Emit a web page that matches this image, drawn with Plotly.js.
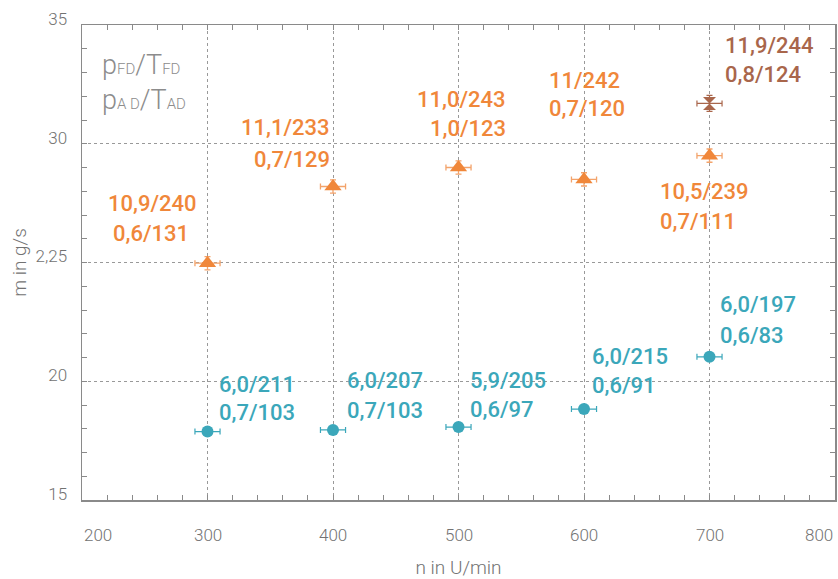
<!DOCTYPE html>
<html>
<head>
<meta charset="utf-8">
<script src="https://cdn.plot.ly/plotly-3.0.1.min.js"></script>
<style>
  html, body { margin: 0; padding: 0; background: #fff; }
  #chart { width: 838px; height: 579px; }
</style>
</head>
<body>
<div id="chart"></div>
<script>
// Speed n in U/min
const speeds = [300, 400, 500, 600, 700];
// Mass flow m in g/s, upper series (triangles)
const massUpper = [24.97, 28.2, 29.0, 28.5, 29.5];
// Mass flow m in g/s, lower series (circles)
const massLower = [17.88, 17.95, 18.07, 18.83, 21.03];
// Single extra operating point
const extraSpeed = [700];
const extraMass = [31.7];

// Error bar half-widths
const errSpeed = 10;
const errMassUpper = 0.28;
const errMassExtra = 0.34;

// Point labels: pFD/TFD (first line) and pAD/TAD (second line)
const upperLine1 = ['10,9/240', '11,1/233', '11,0/243', '11/242', '10,5/239'];
const upperLine2 = ['0,6/131', '0,7/129', '1,0/123', '0,7/120', '0,7/111'];
const lowerLine1 = ['6,0/211', '6,0/207', '5,9/205', '6,0/215', '6,0/197'];
const lowerLine2 = ['0,7/103', '0,7/103', '0,6/97', '0,6/91', '0,6/83'];
const extraLine1 = ['11,9/244'];
const extraLine2 = ['0,8/124'];

// Axis ticks
const xTicks = [200, 300, 400, 500, 600, 700, 800];
const xTickText = ['200', '300', '400', '500', '600', '700', '800'];
const yTicks = [15, 20, 25, 30, 35];
const yTickText = ['15', '20', '2,25', '30', '35'];

const ORANGE = '#F0873A';
const BLUE = '#3BA7BA';
const BROWN = '#A9664B';
const GREY = '#727272';
const FONT = 'Roboto, "DejaVu Sans", sans-serif';

const traces = [
  {
    x: speeds, y: massUpper, type: 'scatter', mode: 'markers',
    marker: { symbol: 'triangle-up', size: 15, color: ORANGE },
    error_x: { type: 'constant', value: errSpeed, color: '#F3A36B', thickness: 1.3, width: 3 },
    error_y: { type: 'constant', value: errMassUpper, color: '#F3A36B', thickness: 1.3, width: 3 },
    hoverinfo: 'x+y'
  },
  {
    x: speeds, y: massLower, type: 'scatter', mode: 'markers',
    marker: { symbol: 'circle', size: 12, color: BLUE },
    error_x: { type: 'constant', value: errSpeed, color: BLUE, thickness: 1.2, width: 3 },
    hoverinfo: 'x+y'
  },
  {
    x: extraSpeed, y: extraMass, type: 'scatter', mode: 'markers',
    marker: { symbol: 'hourglass', size: 13, color: BROWN },
    error_x: { type: 'constant', value: errSpeed, color: BROWN, thickness: 1.2, width: 3 },
    error_y: { type: 'constant', value: errMassExtra, color: BROWN, thickness: 1.2, width: 3 },
    hoverinfo: 'x+y'
  }
];

const labelFont = (c) => ({ family: FONT, size: 22, color: c, weight: 500 });

// Pixel offsets of the two label lines around each point
const upperOffsets = [
  { anchor: 'center', dx: -55, dy1: 60, dy2: 30 },
  { anchor: 'right', dx: -1, dy1: 59, dy2: 27 },
  { anchor: 'right', dx: 49, dy1: 68, dy2: 39 },
  { anchor: 'left', dx: -37, dy1: 99, dy2: 71 },
  { anchor: 'left', dx: -52, dy1: -36, dy2: -66 }
];
const lowerOffsets = [
  { dx: 9, dy1: 47, dy2: 19 },
  { dx: 12, dy1: 49, dy2: 19 },
  { dx: 9, dy1: 47, dy2: 18 },
  { dx: 6, dy1: 53, dy2: 24 },
  { dx: 8, dy1: 52, dy2: 21 }
];

const annotations = [];
function pointLabel(x, y, text, anchor, dx, dy, color) {
  annotations.push({
    x: x, y: y, xref: 'x', yref: 'y', text: text, showarrow: false,
    xanchor: anchor, yanchor: 'middle', xshift: dx, yshift: dy,
    font: labelFont(color)
  });
}
speeds.forEach((n, i) => {
  const o = upperOffsets[i];
  pointLabel(n, massUpper[i], upperLine1[i], o.anchor, o.dx, o.dy1, ORANGE);
  pointLabel(n, massUpper[i], upperLine2[i], o.anchor, o.anchor === 'center' ? o.dx - 2 : o.dx, o.dy2, ORANGE);
  const p = lowerOffsets[i];
  pointLabel(n, massLower[i], lowerLine1[i], 'left', p.dx, p.dy1, BLUE);
  pointLabel(n, massLower[i], lowerLine2[i], 'left', p.dx, p.dy2, BLUE);
});
pointLabel(extraSpeed[0], extraMass[0], extraLine1[0], 'left', 13, 58, BROWN);
pointLabel(extraSpeed[0], extraMass[0], extraLine2[0], 'left', 13, 29, BROWN);

// x tick labels: the outer two are kept inside the axis span
xTicks.forEach((v, i) => {
  const anchor = i === 0 ? 'left' : (i === xTicks.length - 1 ? 'right' : 'center');
  annotations.push({
    x: v, y: 0, xref: 'x', yref: 'paper', text: xTickText[i], showarrow: false,
    xanchor: anchor, yanchor: 'middle', yshift: -35,
    font: { family: FONT, size: 17, color: GREY, weight: 300 }
  });
});

// Key for the two label lines
const sub = (t) => '<span style="font-size:15px">' + t + '</span>';
annotations.push({
  x: 0, y: 1, xref: 'paper', yref: 'paper', xanchor: 'left', yanchor: 'middle',
  xshift: 18, yshift: -40, showarrow: false,
  text: 'p' + sub('FD') + '/T' + sub('FD'),
  font: { family: FONT, size: 27, color: '#8c8c8c', weight: 300 }
});
annotations.push({
  x: 0, y: 1, xref: 'paper', yref: 'paper', xanchor: 'left', yanchor: 'middle',
  xshift: 18, yshift: -75, showarrow: false,
  text: 'p' + sub('A D') + '/T' + sub('AD'),
  font: { family: FONT, size: 27, color: '#8c8c8c', weight: 300 }
});

const axisCommon = {
  showline: true, linecolor: '#8a8a8a', linewidth: 1.5, mirror: 'allticks',
  ticks: 'inside', ticklen: 5, tickcolor: '#8a8a8a', tickwidth: 1,
  showgrid: true, gridcolor: '#999999', griddash: 'dot', gridwidth: 1,
  zeroline: false, fixedrange: true, automargin: false
};

const layout = {
  width: 838, height: 579,
  margin: { l: 82, r: 3, t: 25, b: 79 },
  paper_bgcolor: '#ffffff', plot_bgcolor: '#ffffff',
  showlegend: false,
  font: { family: FONT, color: GREY },
  xaxis: Object.assign({}, axisCommon, {
    range: [200, 800], tickvals: xTicks, ticktext: xTickText, showticklabels: false,
    minor: { dtick: 20, ticks: 'inside', ticklen: 5, tickcolor: '#8a8a8a', showgrid: false },
    title: { text: 'n in U/min', standoff: 61, font: { family: FONT, size: 19, color: GREY, weight: 300 } }
  }),
  yaxis: Object.assign({}, axisCommon, {
    range: [15, 35], tickvals: yTicks, ticktext: yTickText,
    tickfont: { family: FONT, size: 17, color: GREY, weight: 300 },
    ticklabelshift: -6, ticklabelstandoff: 10,
    minor: { dtick: 1, ticks: 'inside', ticklen: 5, tickcolor: '#8a8a8a', showgrid: false },
    title: { text: 'm in g/s', standoff: 4, font: { family: FONT, size: 19, color: GREY, weight: 300 } }
  }),
  annotations: annotations
};

Plotly.newPlot('chart', traces, layout, { displayModeBar: false, staticPlot: true });
</script>
</body>
</html>
